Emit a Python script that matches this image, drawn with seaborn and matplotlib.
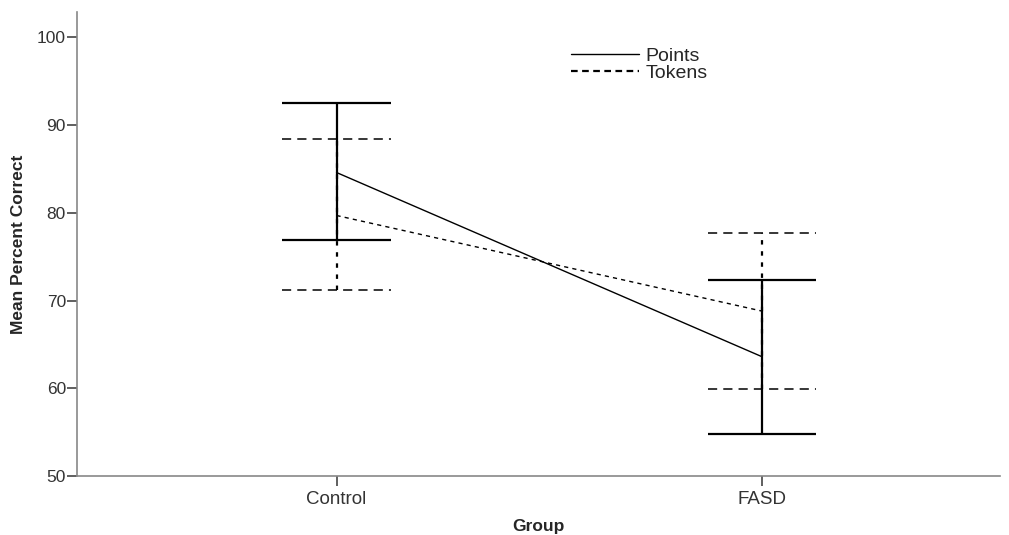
import numpy as np
import pandas as pd
import matplotlib
matplotlib.use("Agg")
import matplotlib.pyplot as plt
import seaborn as sns
from matplotlib.lines import Line2D

# values
groups = ["Control", "FASD"]
points_mean = [84.6, 63.6]
points_low = [76.9, 54.8]
points_high = [92.5, 72.4]
tokens_mean = [79.7, 68.8]
tokens_low = [71.2, 59.9]
tokens_high = [88.4, 77.7]

sns.set_style("ticks")
plt.rcParams['font.family'] = ['Liberation Sans', 'DejaVu Sans']

df = pd.DataFrame({
    "Group": groups * 2,
    "mean": points_mean + tokens_mean,
    "measure": ["Points"] * 2 + ["Tokens"] * 2,
})

fig = plt.figure(figsize=(10.09, 5.35), dpi=100)
ax = fig.add_axes([0.0763, 0.1103, 0.915, 0.8673])

sns.lineplot(data=df, x="Group", y="mean", style="measure",
             dashes={"Points": "", "Tokens": (3, 3)}, color="black",
             linewidth=1.0, ax=ax, legend=False, sort=False)

xs = np.arange(len(groups))
cap = 0.127
# error bars: Points solid, Tokens dashed
ax.vlines(xs, points_low, points_high, color="black", linewidth=1.6, zorder=3)
ax.hlines(points_low + points_high, np.tile(xs, 2) - cap, np.tile(xs, 2) + cap,
          color="black", linewidth=1.6, zorder=3)
ax.vlines(xs, tokens_low, tokens_high, color="black", linewidth=1.6,
          linestyles=(0, (2, 3)), zorder=2)
ax.hlines(tokens_low + tokens_high, np.tile(xs, 2) - cap, np.tile(xs, 2) + cap,
          color="black", linewidth=1.1, linestyles=(0, (6, 4)), zorder=2)

ax.set_xlim(-0.61, 1.56)
ax.set_ylim(50, 102.9)
ax.set_yticks([50, 60, 70, 80, 90, 100])
ax.set_xticks(xs)
ax.set_xticklabels(groups)

for s in ["top", "right"]:
    ax.spines[s].set_visible(False)
for s in ["left", "bottom"]:
    ax.spines[s].set_color("#888888")
    ax.spines[s].set_linewidth(1.2)
ax.tick_params(axis="y", length=7, width=1.2, color="#444444", labelsize=12.5,
               labelcolor="#333333", pad=1)
ax.tick_params(axis="x", length=7, width=1.2, color="#444444", labelsize=13.5,
               labelcolor="#333333", pad=4)

ax.set_xlabel("Group", fontsize=12.5, fontweight="bold", labelpad=8)
ax.set_ylabel("Mean Percent Correct", fontsize=12.5, fontweight="bold", labelpad=8)

handles = [Line2D([], [], color="black", linewidth=1.0),
           Line2D([], [], color="black", linewidth=1.6, linestyle=(0, (3, 2)))]
ax.legend(handles, ["Points", "Tokens"], loc="upper left",
          bbox_to_anchor=(0.527, 0.94), frameon=False, handlelength=3.5,
          handletextpad=0.3, labelspacing=-0.05, borderaxespad=0, fontsize=14)

plt.savefig("out.png", dpi=100)
